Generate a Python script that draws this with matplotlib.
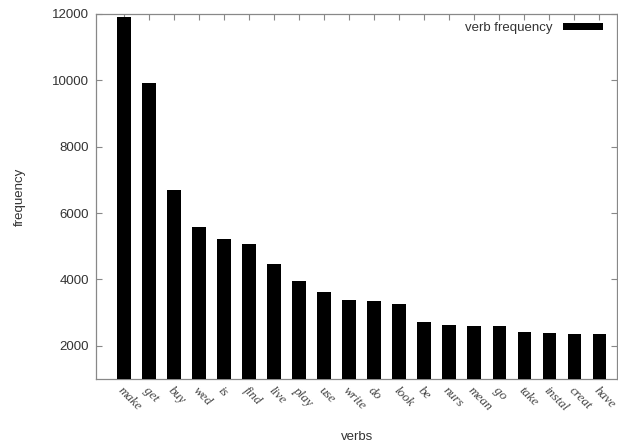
import matplotlib
matplotlib.use("Agg")
import matplotlib.pyplot as plt

verbs = ["make", "get", "buy", "wed", "is", "find", "live", "play", "use", "write",
         "do", "look", "be", "nurs", "mean", "go", "take", "instal", "creat", "have"]
freq = [11920, 9910, 6710, 5590, 5230, 5070, 4460, 3960, 3630, 3375,
        3350, 3250, 2710, 2625, 2605, 2590, 2415, 2375, 2355, 2355]
yticks = [2000, 4000, 6000, 8000, 10000, 12000]
series_label = "verb frequency"

plt.rcParams['font.family'] = ['Liberation Sans', 'DejaVu Sans']
fig = plt.figure(figsize=(6.18, 4.47), dpi=100)
ax = fig.add_axes([96/618, 1-379/447, (617-96)/618, (379-14)/447])

x = list(range(len(verbs)))
ax.bar(x, freq, width=0.55, color='black', label=series_label, zorder=3)

ax.set_xlim(-1.12, 19.7)
ax.set_ylim(1000, 12000)
ax.set_yticks(yticks)
ax.set_yticklabels([str(v) for v in yticks], fontsize=9.5, color='#333333')
ax.set_xticks(x)
ax.set_xticklabels(verbs, rotation=-45, ha='left', va='top', rotation_mode='anchor',
                   fontsize=9.5, family=['Liberation Serif'], style='italic', color='#444444')

ax.tick_params(axis='both', which='major', direction='in', length=4, width=0.8,
               color='#888888', top=True, right=True)
ax.tick_params(axis='x', pad=4)
ax.tick_params(axis='y', pad=5)
for s in ax.spines.values():
    s.set_color('#888888')
    s.set_linewidth(0.9)

ax.set_ylabel("frequency", fontsize=9.5, color='#333333', va='center')
ax.yaxis.set_label_coords((20 - 96) / 521, 0.5)
ax.set_xlabel("verbs", fontsize=9.5, color='#333333', va='center')
ax.xaxis.set_label_coords(0.501, (379 - 437) / 365)

leg = ax.legend(loc='upper right', bbox_to_anchor=(1 - 1/521, 1 + 5/365),
                frameon=False, markerfirst=False,
                handlelength=3.0, handleheight=0.45, fontsize=9.5,
                borderaxespad=0.6, handletextpad=0.8)
for t in leg.get_texts():
    t.set_color('#333333')

fig.savefig("out.png", dpi=100, facecolor='white')
